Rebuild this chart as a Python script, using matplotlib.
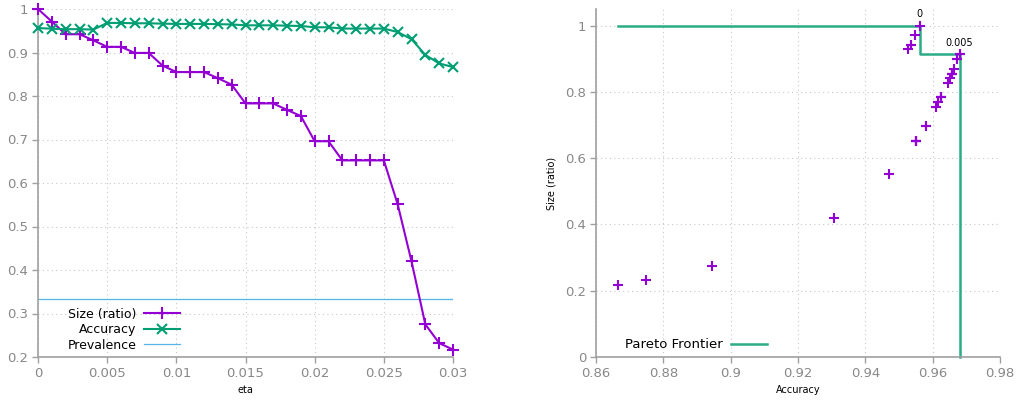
import numpy as np
import matplotlib
matplotlib.use("Agg")
import matplotlib.pyplot as plt

# ---- data ----
eta = [0.000, 0.001, 0.002, 0.003, 0.004, 0.005, 0.006, 0.007, 0.008, 0.009,
       0.010, 0.011, 0.012, 0.013, 0.014, 0.015, 0.016, 0.017, 0.018, 0.019,
       0.020, 0.021, 0.022, 0.023, 0.024, 0.025, 0.026, 0.027, 0.028, 0.029, 0.030]
size_ratio = [1.000, 0.971, 0.942, 0.942, 0.928, 0.913, 0.913, 0.899, 0.899, 0.870,
              0.855, 0.855, 0.855, 0.841, 0.826, 0.783, 0.783, 0.783, 0.768, 0.754,
              0.696, 0.696, 0.652, 0.652, 0.652, 0.652, 0.551, 0.420, 0.275, 0.232, 0.217]
accuracy = [0.9562, 0.9547, 0.9536, 0.9536, 0.9527, 0.9680, 0.9680, 0.9672, 0.9672, 0.9663,
            0.9657, 0.9657, 0.9657, 0.9651, 0.9645, 0.9625, 0.9625, 0.9625, 0.9616, 0.9610,
            0.9580, 0.9580, 0.9550, 0.9550, 0.9550, 0.9550, 0.9470, 0.9307, 0.8945, 0.8749, 0.8665]
prevalence = 0.3333
pareto_acc = [0.8665, 0.9562, 0.9562, 0.9680, 0.9680]
pareto_size = [1.000, 1.000, 0.913, 0.913, 0.000]
pareto_labels = ["0", "0.005"]
pareto_label_idx = [0, 5]

left_xticks = [0, 0.005, 0.01, 0.015, 0.02, 0.025, 0.03]
left_xticklabels = ["0", "0.005", "0.01", "0.015", "0.02", "0.025", "0.03"]
left_yticks = [0.2, 0.3, 0.4, 0.5, 0.6, 0.7, 0.8, 0.9, 1.0]
left_yticklabels = ["0.2", "0.3", "0.4", "0.5", "0.6", "0.7", "0.8", "0.9", "1"]
right_xticks = [0.86, 0.88, 0.9, 0.92, 0.94, 0.96, 0.98]
right_xticklabels = ["0.86", "0.88", "0.9", "0.92", "0.94", "0.96", "0.98"]
right_yticks = [0, 0.2, 0.4, 0.6, 0.8, 1.0]
right_yticklabels = ["0", "0.2", "0.4", "0.6", "0.8", "1"]

PURPLE = "#9400D3"
GREEN = "#009E73"
BLUE = "#56B4E9"
AXC = "#a0a0a0"
TXC = "#888888"

plt.rcParams["font.family"] = ["DejaVu Sans"]

fig = plt.figure(figsize=(10.16, 4.01), dpi=100)
axL = fig.add_axes([38/1016, 1 - 357/401, 415/1016, 348/401])
axR = fig.add_axes([596/1016, 1 - 357/401, 404/1016, 348/401])

def style(ax):
    for s in ["top", "right"]:
        ax.spines[s].set_visible(False)
    for s in ["left", "bottom"]:
        ax.spines[s].set_color(AXC)
        ax.spines[s].set_linewidth(1.2)
    ax.tick_params(direction="out", length=4, width=1, color=AXC,
                   labelcolor=TXC, labelsize=9.5, pad=3)
    ax.grid(True, linestyle=(0, (1, 3)), color="#c8c8c8", linewidth=0.8)
    ax.set_axisbelow(True)

# ---- left ----
style(axL)
axL.plot(eta, size_ratio, color=PURPLE, lw=1.5, marker="+", ms=8, mew=1.5,
         label="Size (ratio)", clip_on=False, zorder=3)
axL.plot(eta, accuracy, color=GREEN, lw=1.5, marker="x", ms=6.5, mew=1.5,
         label="Accuracy", clip_on=False, zorder=3)
axL.axhline(prevalence, color=BLUE, lw=0.9, label="Prevalence", zorder=2)
axL.set_xlim(0, 0.03)
axL.set_ylim(0.2, 1.0)
axL.set_xticks(left_xticks)
axL.set_xticklabels(left_xticklabels)
axL.set_yticks(left_yticks)
axL.set_yticklabels(left_yticklabels)
axL.set_xlabel("eta", fontsize=7, labelpad=4)
leg = axL.legend(loc="lower left", bbox_to_anchor=(0.05, -0.01), frameon=False,
                 markerfirst=False, fontsize=9, handlelength=2.9,
                 handletextpad=0.6, labelspacing=0.2, borderaxespad=0.3)

# ---- right ----
style(axR)
axR.scatter(accuracy, size_ratio, marker="+", s=55, color=PURPLE, linewidths=1.5,
            zorder=3, clip_on=False)
axR.plot(pareto_acc, pareto_size, color="#2bab86", lw=1.8, label="Pareto Frontier",
         zorder=2, clip_on=False)
for lab, i in zip(pareto_labels, pareto_label_idx):
    axR.annotate(lab, (accuracy[i], size_ratio[i]), xytext=(0, 4.5),
                 textcoords="offset points", ha="center", va="bottom", fontsize=7)
axR.set_xlim(0.86, 0.98)
axR.set_ylim(0, 1.05)
axR.set_xticks(right_xticks)
axR.set_xticklabels(right_xticklabels)
axR.set_yticks(right_yticks)
axR.set_yticklabels(right_yticklabels)
axR.set_xlabel("Accuracy", fontsize=7, labelpad=4)
axR.set_ylabel("Size (ratio)", fontsize=7, labelpad=6)
axR.legend(loc="lower left", bbox_to_anchor=(0.05, -0.01), frameon=False,
           markerfirst=False, fontsize=9.5, handlelength=2.7, handletextpad=0.6,
           borderaxespad=0.3)

fig.savefig("out.png", dpi=100)
